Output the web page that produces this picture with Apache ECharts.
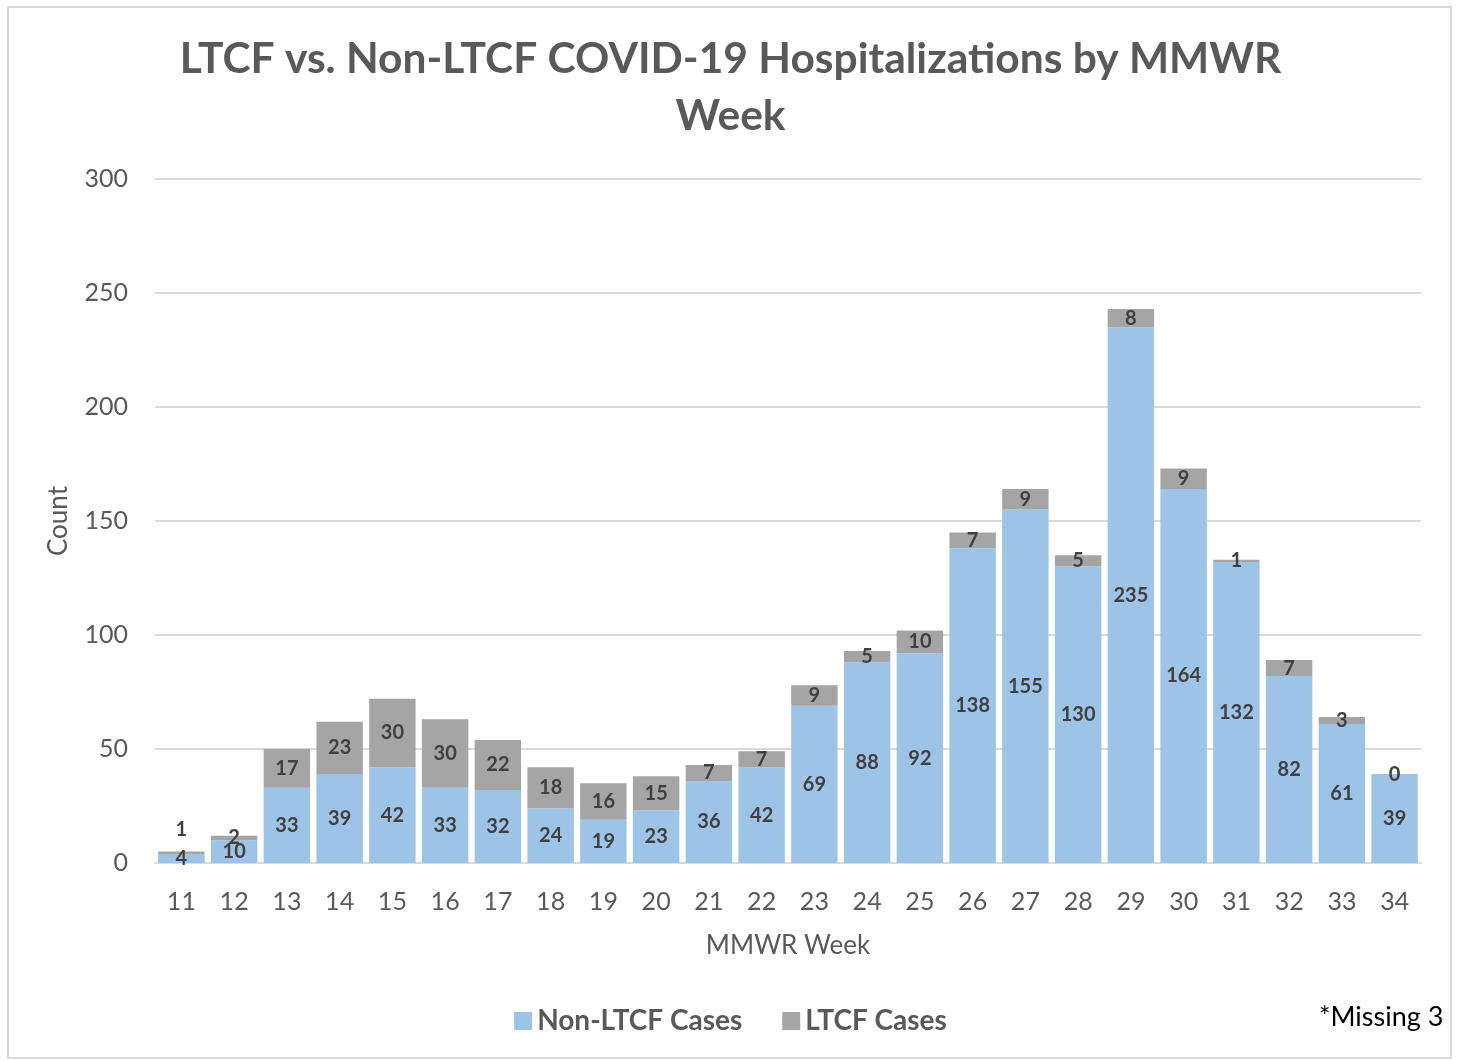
<!DOCTYPE html>
<html><head><meta charset="utf-8">
<script src="https://cdn.jsdelivr.net/npm/echarts@6/dist/echarts.min.js"></script>
<style>html,body{margin:0;padding:0;background:#fff}#c{width:1461px;height:1061px}</style>
</head><body><div id="c"></div>
<script>
const weeks = ['11','12','13','14','15','16','17','18','19','20','21','22','23','24','25','26','27','28','29','30','31','32','33','34'];
const nonLtcf = [4,10,33,39,42,33,32,24,19,23,36,42,69,88,92,138,155,130,235,164,132,82,61,39];
const ltcf = [1,2,17,23,30,30,22,18,16,15,7,7,9,5,10,7,9,5,8,9,1,7,3,0];
const yTicks = [0,50,100,150,200,250,300];

const FONT = 'Lato, "Open Sans", sans-serif';
const chart = echarts.init(document.getElementById('c'), null, {renderer:'canvas'});
const labelStyle = {show:true, position:'inside', color:'#404040', fontWeight:'bold', fontSize:20, fontFamily:FONT};
const ltcfData = ltcf.map((v,i)=> i===0 ? {value:v, label:{offset:[0,-23]}} : v);
chart.setOption({
  animation:false,
  title:{
    text:'LTCF vs. Non-LTCF COVID-19 Hospitalizations by MMWR\nWeek',
    left:'center', top:26,
    textStyle:{color:'#595959', fontWeight:'bold', fontSize:42.5, fontFamily:FONT, lineHeight:57}
  },
  legend:{
    data:['Non-LTCF Cases','LTCF Cases'],
    bottom:21, left:'center',
    icon:'rect', itemWidth:18, itemHeight:18, itemGap:40,
    textStyle:{color:'#595959', fontWeight:'bold', fontSize:28, fontFamily:FONT}
  },
  grid:{left:155, right:40, top:179, bottom:198, containLabel:false},
  xAxis:{
    type:'category', data:weeks,
    name:'MMWR Week', nameLocation:'middle', nameGap:70,
    nameTextStyle:{color:'#595959', fontSize:26, fontFamily:FONT},
    axisLine:{lineStyle:{color:'#d9d9d9', width:2}},
    axisTick:{show:false},
    axisLabel:{color:'#595959', fontSize:25, fontFamily:FONT, margin:26}
  },
  yAxis:{
    type:'value', min:yTicks[0], max:yTicks[yTicks.length-1], interval:50,
    name:'Count', nameLocation:'middle', nameGap:83,
    nameTextStyle:{color:'#595959', fontSize:26, fontFamily:FONT},
    axisLine:{show:false}, axisTick:{show:false},
    splitLine:{lineStyle:{color:'#d9d9d9', width:2}},
    axisLabel:{color:'#595959', fontSize:25, fontFamily:FONT, margin:27}
  },
  series:[
    {name:'Non-LTCF Cases', type:'bar', stack:'a', data:nonLtcf, barCategoryGap:'12%',
     itemStyle:{color:'#9DC3E6'}, label:labelStyle},
    {name:'LTCF Cases', type:'bar', stack:'a', data:ltcfData, barCategoryGap:'12%',
     itemStyle:{color:'#A5A5A5'}, label:labelStyle}
  ],
  graphic:[
    {type:'rect', shape:{x:8,y:7,width:1443,height:1051}, style:{fill:'none', stroke:'#d9d9d9', lineWidth:2}, silent:true},
    {type:'text', left:1319, top:1004, style:{text:'*Missing 3', fill:'#000', fontSize:27, fontFamily:FONT}}
  ]
});
</script></body></html>
